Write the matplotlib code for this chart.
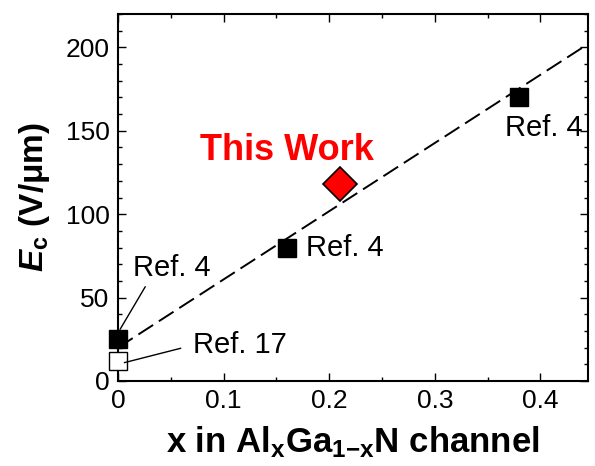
import matplotlib
matplotlib.use("Agg")
import matplotlib.pyplot as plt
from matplotlib.ticker import MultipleLocator

plt.rcParams['font.family'] = ['Liberation Sans', 'DejaVu Sans']
plt.rcParams['mathtext.fontset'] = 'custom'
plt.rcParams['mathtext.rm'] = 'Liberation Sans'
plt.rcParams['mathtext.bf'] = 'Liberation Sans:bold'
plt.rcParams['mathtext.it'] = 'Liberation Sans:italic'
plt.rcParams['mathtext.bfit'] = 'Liberation Sans:italic:bold'

# データ
ref_x = [0.0, 0.16, 0.38]          # 黒四角 (Ref. 4)
ref_y = [25, 80, 170]
ref17_x = [0.0]                    # 白四角 (Ref. 17)
ref17_y = [12]
this_x = [0.21]                    # This Work
this_y = [118]
fit_x = [0.0, 0.445]               # 破線
fit_y = [20, 202]

fig = plt.figure(figsize=(5.95, 4.66), dpi=100)
ax = fig.add_axes([118/595, 1-381/466, (588-118)/595, (381-14)/466])

ax.plot(fit_x, fit_y, color='black', lw=1.4, linestyle=(0, (9, 3.5)), zorder=1)
ax.plot(ref_x, ref_y, 's', color='black', ms=13, clip_on=False, zorder=3)
ax.plot(ref17_x, ref17_y, 's', mfc='white', mec='black', mew=1.0, ms=12.5, clip_on=False, zorder=3)
ax.plot(this_x, this_y, 'D', mfc='red', mec='black', mew=1.2, ms=17, zorder=3)

fs = 19
rfs = 21
ax.annotate('Ref. 4', xy=(0.002, 31), xytext=(0.014, 68), fontsize=rfs, va='center', ha='left',
            arrowprops=dict(arrowstyle='-', relpos=(0.2, 0), shrinkA=2, shrinkB=0, lw=1.0, color='black'))
ax.annotate('Ref. 17', xy=(0.006, 11), xytext=(0.071, 21.5), fontsize=rfs, va='center', ha='left',
            arrowprops=dict(arrowstyle='-', relpos=(0, 0.5), shrinkA=7, shrinkB=0, lw=1.0, color='black'))
ax.text(0.178, 80, 'Ref. 4', fontsize=rfs, va='center', ha='left')
ax.text(0.366, 151.5, 'Ref. 4', fontsize=rfs, va='center', ha='left')
ax.text(0.078, 138, 'This Work', fontsize=26, fontweight='bold', color='red', va='center', ha='left')

ax.set_xlim(0, 0.445)
ax.set_ylim(0, 220)
ax.xaxis.set_major_locator(MultipleLocator(0.1))
ax.xaxis.set_minor_locator(MultipleLocator(0.05))
ax.yaxis.set_major_locator(MultipleLocator(50))
ax.yaxis.set_minor_locator(MultipleLocator(10))
ax.set_xticks([0, 0.1, 0.2, 0.3, 0.4])
ax.set_xticklabels(['0', '0.1', '0.2', '0.3', '0.4'])
ax.tick_params(which='both', direction='in', top=True, right=True, labelsize=fs, width=1.0)
ax.tick_params(which='major', length=6, pad=6)
ax.tick_params(which='minor', length=3)
for s in ax.spines.values():
    s.set_linewidth(1.5)

ax.set_xlabel(r'$\mathbf{x\ in\ Al}_{\mathbf{x}}\mathbf{Ga}_{\mathbf{1{-}x}}\mathbf{N\ channel}$', fontsize=25, labelpad=8)
ax.set_ylabel(r'$\mathbfit{E}_{\mathbf{c}}\ \mathbf{(V/\mu m)}$', fontsize=24, labelpad=10)

fig.savefig('out.png', dpi=100)
